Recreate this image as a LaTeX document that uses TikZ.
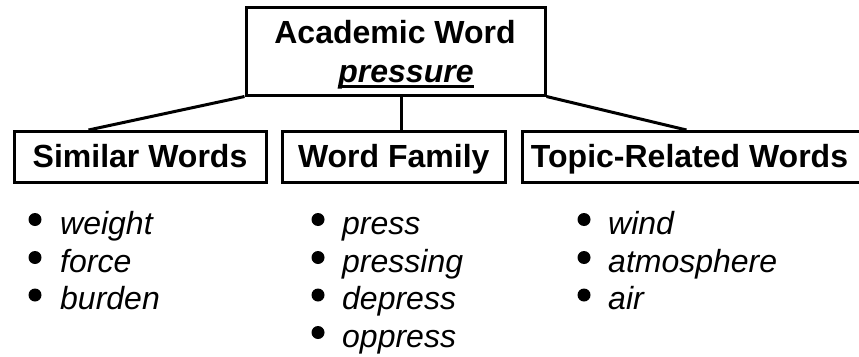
\documentclass[tikz,border=0pt]{standalone}
\usepackage{fontspec}
\setmainfont{Liberation Sans}
\begin{document}
\begin{tikzpicture}[x=1pt,y=-1pt,
  every node/.style={font=\fontsize{32}{38}\selectfont},
  frame/.style={draw, line width=3pt, inner sep=0pt},
  head/.style={frame, font=\fontsize{32}{38}\selectfont\bfseries, text height=22pt, text depth=0pt, minimum height=50.5pt},
  title/.style={inner sep=0pt, anchor=base, font=\fontsize{32}{38}\selectfont\bfseries},
  item/.style={inner sep=0pt, anchor=base west, font=\fontsize{32}{38}\selectfont\itshape},
  dot/.style={circle, fill=black, inner sep=0pt, minimum size=13pt},
  link/.style={line width=3pt}]
\useasboundingbox (0,0) rectangle (859,356);

% main box
\node[frame, minimum width=299pt, minimum height=87.5pt] (main) at (395.5,51.25) {};
\node[title] (t1) at (395,43) {Academic Word};
\node[title, font=\fontsize{32}{38}\selectfont\bfseries\itshape] (t2) at (406,82) {pressure};
\draw[line width=2.5pt] ([yshift=-4.5pt]t2.base west) -- ([yshift=-4.5pt]t2.base east);

% category boxes
\node[head, minimum width=252pt] (sim) at (140,156.75) {Similar Words};
\node[head, minimum width=222.5pt] (wf) at (393.75,156.75) {Word Family};
\node[head, minimum width=339.5pt] (top) at (692.25,156.75) {Topic-Related Words\hspace*{5.5pt}};

% connectors
\draw[link] (main.south west) -- ([xshift=76pt]sim.north west);
\draw[link] ([xshift=5.5pt]main.south) -- ([xshift=5.5pt]main.south |- wf.north);
\draw[link] (main.south east) -- ([xshift=165.5pt]top.north west);

% column 1
\node[dot] (b11) at (35,219.5) {};
\node[dot] (b12) at (35,257.5) {};
\node[dot] (b13) at (35,295) {};
\node[item] (i11) at (60,234) {weight};
\node[item] (i12) at (60,272) {force};
\node[item] (i13) at (60,309.5) {burden};

% column 2
\node[dot] (b21) at (318,219.5) {};
\node[dot] (b22) at (318,257.5) {};
\node[dot] (b23) at (318,295) {};
\node[dot] (b24) at (318,332.5) {};
\node[item] (i21) at (342,234) {press};
\node[item] (i22) at (342,272) {pressing};
\node[item] (i23) at (342,309.5) {depress};
\node[item] (i24) at (342,347) {oppress};

% column 3
\node[dot] (b31) at (584,219.5) {};
\node[dot] (b32) at (584,257.5) {};
\node[dot] (b33) at (584,295) {};
\node[item] (i31) at (608,234) {wind};
\node[item] (i32) at (608,272) {atmosphere};
\node[item] (i33) at (608,309.5) {air};
\end{tikzpicture}
\end{document}
